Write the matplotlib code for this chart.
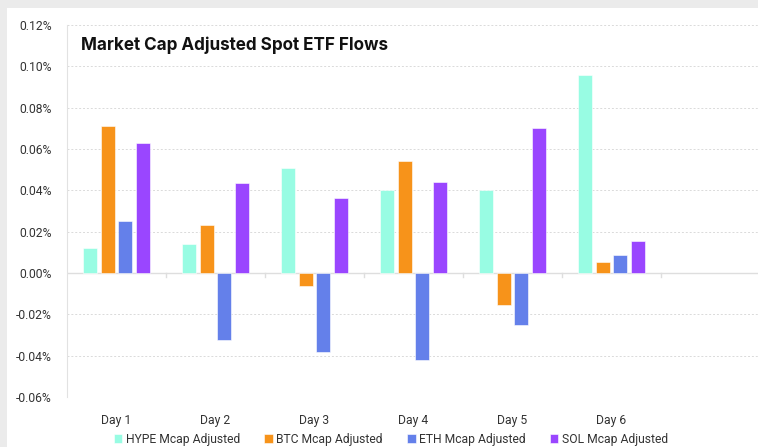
import numpy as np
import matplotlib.pyplot as plt
from matplotlib.patches import Rectangle
from matplotlib.ticker import FuncFormatter

plt.rcParams['font.family'] = ['Liberation Sans Narrow', 'Roboto', 'DejaVu Sans']

days = ["Day 1", "Day 2", "Day 3", "Day 4", "Day 5", "Day 6", ""]
series_names = ["HYPE Mcap Adjusted", "BTC Mcap Adjusted", "ETH Mcap Adjusted", "SOL Mcap Adjusted"]
hype = [0.0119, 0.0138, 0.0509, 0.0400, 0.0400, 0.0958, np.nan]
btc = [0.0712, 0.0232, -0.0064, 0.0541, -0.0154, 0.0051, np.nan]
eth = [0.0253, -0.0325, -0.0384, -0.0421, -0.0254, 0.0085, np.nan]
sol = [0.0627, 0.0435, 0.0365, 0.0440, 0.0702, 0.0157, np.nan]
colors = ["#98FCE3", "#F7931A", "#6480EA", "#9A46FF"]

fig = plt.figure(figsize=(7.58, 4.47), dpi=100)
fig.patch.set_facecolor("#EBEBEB")
fig.patches.append(Rectangle((7 / 758, 0), 1, 1 - 8 / 447, transform=fig.transFigure,
                             facecolor="white", edgecolor="none", zorder=-10))

ax = fig.add_axes([67 / 758, 1 - 397 / 447, 693 / 758, 372 / 447])
ax.set_facecolor("none")
ax.set_zorder(5)

x = np.arange(len(days))
width = 0.142
step = 0.18
for i, (vals, name) in enumerate(zip([hype, btc, eth, sol], series_names)):
    ax.bar(x + (i - 1.5) * step, vals, width, color=colors[i], label=name,
           edgecolor="white", linewidth=0.4, zorder=3)

ax.set_xlim(-0.5, len(days) - 0.5)
ax.set_ylim(-0.06, 0.12)
ax.set_yticks(np.arange(-0.06, 0.1201, 0.02))
ax.yaxis.set_major_formatter(FuncFormatter(lambda v, p: f"{v:.2f}%"))
ax.set_xticks(x)
ax.set_xticklabels(days)
ax.tick_params(axis="both", length=0, labelsize=8.7, colors="#333333")
ax.tick_params(axis="y", pad=11)
ax.tick_params(axis="x", pad=12)

ax.grid(axis="y", color="#DADADA", linestyle=(0, (2, 2)), linewidth=0.7, zorder=0)
ax.axhline(0, color="#DEDEDE", linewidth=1.0, zorder=2)
for s in ["top", "right", "bottom"]:
    ax.spines[s].set_visible(False)
ax.spines["left"].set_color("#E2E2E2")

# small ticks on the zero line at category boundaries
for b in x[:-1] + 0.5:
    ax.plot([b, b], [0, -0.002], color="#DEDEDE", linewidth=1.0, zorder=2)

fig.text(81 / 758, 1 - 45 / 447, "Market Cap Adjusted Spot ETF Flows",
         fontsize=12.3, fontweight="bold", family=["Inter", "DejaVu Sans"], color="#111111",
         va="center", ha="left", zorder=10)

fig.legend(loc="center", bbox_to_anchor=(391 / 758, 1 - 439 / 447), ncol=4, frameon=False,
           fontsize=8.7, handlelength=0.7, handleheight=0.7, handletextpad=0.3,
           columnspacing=2.0, labelcolor="#333333")

fig.savefig("out.png", dpi=100, facecolor=fig.get_facecolor())
